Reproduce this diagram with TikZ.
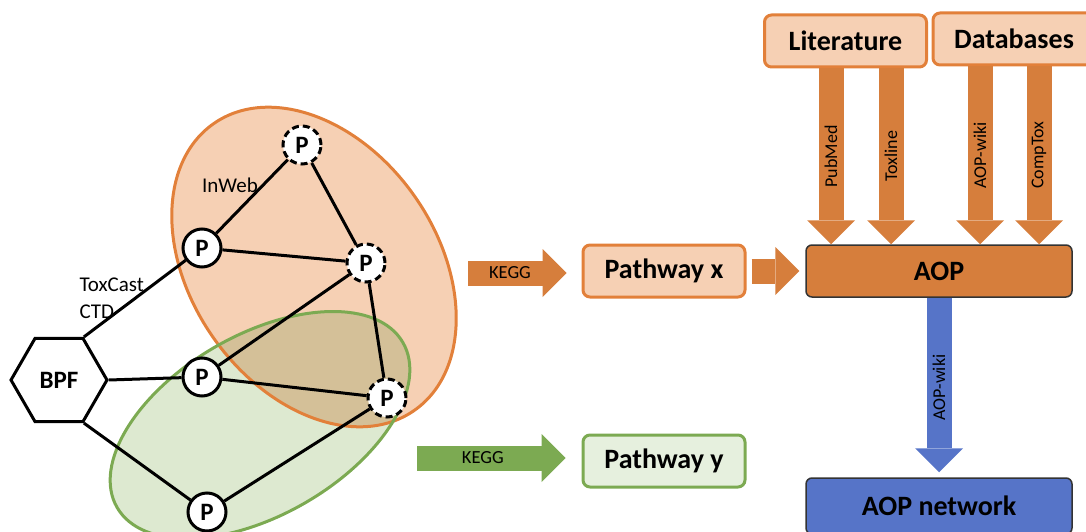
\documentclass[tikz,border=0pt]{standalone}
\usepackage{fontspec}
\setmainfont{Carlito}
\usetikzlibrary{shapes.geometric,arrows.meta}

\definecolor{aoporange}{RGB}{214,126,60}
\definecolor{ringorange}{RGB}{226,128,58}
\definecolor{paleorange}{RGB}{246,208,180}
\definecolor{aopgreen}{RGB}{124,170,82}
\definecolor{setgreen}{RGB}{221,233,208}
\definecolor{palegreen}{RGB}{230,240,222}
\definecolor{mixtan}{RGB}{212,192,152}
\definecolor{aopblue}{RGB}{86,116,200}

\tikzset{
  prot/.style={circle,draw,fill=white,line width=3pt,minimum size=38pt,inner sep=0pt,
    font=\bfseries\fontsize{25}{25}\selectfont},
  predicted/.style={prot,dash pattern=on 7pt off 4pt},
  link/.style={line width=3pt},
  small/.style={font=\fontsize{21}{21}\selectfont},
  pathbox/.style={draw=#1,rounded corners=7pt,line width=3pt,minimum width=162pt,minimum height=52pt,
    font=\bfseries\fontsize{28}{28}\selectfont},
  aopbox/.style={draw=black!80,fill=#1,rounded corners=6pt,line width=1.5pt,minimum width=266pt,
    minimum height=52pt,font=\bfseries\fontsize{28}{28}\selectfont},
  fatarrow/.style={draw=#1,line width=25pt,-{Triangle[width=48pt,length=24pt,line width=0pt]}},
  srclabel/.style={midway,rotate=90,font=\fontsize{18}{18}\selectfont},
  kegglabel/.style={font=\fontsize{18.5}{18.5}\selectfont}
}

\begin{document}
\begin{tikzpicture}[x=1pt,y=-1pt]
    \useasboundingbox (0,0) rectangle (1086,532);

    % the two pathway sets
    \fill[paleorange,rotate around={-55:(314,267)}] (314,267) ellipse [x radius=175pt,y radius=123pt];
    \fill[setgreen,rotate around={30:(260,425)}] (260,425) ellipse [x radius=165pt,y radius=90pt];
    \begin{scope}
        \clip[rotate around={-55:(314,267)}] (314,267) ellipse [x radius=175pt,y radius=123pt];
        \fill[mixtan,rotate around={30:(260,425)}] (260,425) ellipse [x radius=165pt,y radius=90pt];
    \end{scope}
    \draw[ringorange,line width=3pt,rotate around={-55:(314,267)}] (314,267) ellipse [x radius=175pt,y radius=123pt];
    \draw[aopgreen,line width=3pt,rotate around={30:(260,425)}] (260,425) ellipse [x radius=165pt,y radius=90pt];

    % proteins
    \node[predicted] (p1) at (302,145) {P};
    \node[prot] (p2) at (202,248) {P};
    \node[predicted] (p3) at (366,263) {P};
    \node[prot] (p4) at (202,377) {P};
    \node[predicted] (p5) at (387,398) {P};
    \node[prot] (p6) at (207,512) {P};
    \node[draw,regular polygon,regular polygon sides=6,minimum size=96pt,inner sep=0pt,line width=3pt,
        font=\bfseries\fontsize{25}{25}\selectfont] (bpf) at (59,380) {BPF};

    \draw[link] (bpf.60) -- (p2);
    \draw[link] (bpf.0) -- (p4);
    \draw[link] (bpf.-60) -- (p6);
    \draw[link] (p2) -- (p1) (p1) -- (p3) (p2) -- (p3) (p3) -- (p4)
        (p3) -- (p5) (p4) -- (p5) (p5) -- (p6);

    \node[small] (inweb) at (230,185) {InWeb};
    \node[small,anchor=west] (toxcast) at (76,285) {ToxCast};
    \node[small,anchor=west] (ctd) at (76,312) {CTD};

    % boxes
    \node[pathbox=ringorange,fill=paleorange] (pathx) at (664,271) {Pathway x};
    \node[pathbox=aopgreen,fill=palegreen] (pathy) at (664,461) {Pathway y};
    \node[aopbox=aoporange] (aop) at (939,271) {AOP};
    \node[aopbox=aopblue,minimum height=56pt] (net) at (939,506) {AOP network};
    \node[pathbox=ringorange,fill=paleorange] (lit) at (845.5,41) {Literature};
    \node[pathbox=ringorange,fill=paleorange] (db) at (1014,39) {Databases};

    % arrows
    \coordinate (keggx) at (468,273);
    \coordinate (keggy) at (417,458);
    \draw[fatarrow=aoporange,shorten >=15pt] (keggx) -- (keggx -| pathx.west)
        node[kegglabel,pos=0.37] {KEGG};
    \draw[fatarrow=aopgreen,shorten >=16pt] (keggy) -- (keggy -| pathy.west)
        node[kegglabel,pos=0.40] {KEGG};
    \draw[fatarrow=aoporange,shorten <=5pt,shorten >=6pt] (pathx.east) -- (aop.west);

    \draw[fatarrow=aoporange] ([xshift=-14.5pt]lit.south) -- ([xshift=-14.5pt]lit.south |- aop.north)
        node[srclabel] {PubMed};
    \draw[fatarrow=aoporange] ([xshift=45.5pt]lit.south) -- ([xshift=45.5pt]lit.south |- aop.north)
        node[srclabel] {Toxline};
    \draw[fatarrow=aoporange] ([xshift=-34pt]db.south) -- ([xshift=-34pt]db.south |- aop.north)
        node[srclabel] {AOP-wiki};
    \draw[fatarrow=aoporange] ([xshift=25pt]db.south) -- ([xshift=25pt]db.south |- aop.north)
        node[srclabel] {CompTox};

    \draw[fatarrow=aopblue,shorten >=5pt] (aop.south) -- (net.north)
        node[srclabel] {AOP-wiki};
\end{tikzpicture}
\end{document}
